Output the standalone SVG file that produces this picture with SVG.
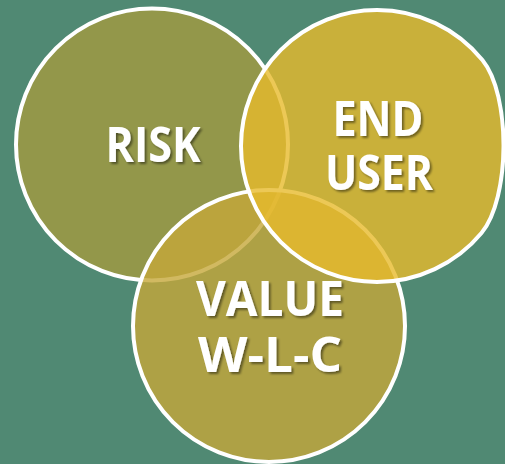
<svg xmlns="http://www.w3.org/2000/svg" width="505" height="464" viewBox="0 0 505 464">
  <defs>
    <filter id="shadow" x="-20%" y="-20%" width="140%" height="150%">
      <feDropShadow dx="2" dy="2" stdDeviation="1.2" flood-color="#000" flood-opacity="0.45"/>
    </filter>
    <style>
      .disc { stroke: #ffffff; stroke-width: 4; fill-opacity: 0.8; }
      .label { font-family: "Open Sans", "Liberation Sans", sans-serif; font-weight: 700; font-size: 48px; fill: #ffffff; text-anchor: middle; filter: url(#shadow); }
    </style>
  </defs>

  <!-- background -->
  <rect x="0" y="0" width="505" height="464" fill="#508973"/>

  <!-- Risk -->
  <g id="risk">
    <circle class="disc" cx="152" cy="144.5" r="136" fill="#a49b40"/>
  </g>

  <!-- Value (whole-life cost) -->
  <g id="value">
    <circle class="disc" cx="269" cy="326" r="136" fill="#c5a73a"/>
  </g>

  <!-- End user: right side flattened against the edge -->
  <g id="end-user">
    <path class="disc" fill="#e7ba2c"
          d="M 377 10 A 136 136 0 0 0 241 146 A 136 136 0 0 0 377 282 A 136 136 0 0 0 481.5 233 C 510.4 198.3 511 95 482.4 60 A 136 136 0 0 0 377 10 Z"/>
  </g>

  <!-- labels -->
  <g id="labels">
    <text class="label" x="153" y="162" textLength="95" lengthAdjust="spacingAndGlyphs">RISK</text>
    <text class="label" x="378" y="136" textLength="91" lengthAdjust="spacingAndGlyphs">END</text>
    <text class="label" x="379" y="190" textLength="108" lengthAdjust="spacingAndGlyphs">USER</text>
    <text class="label" x="270" y="316" textLength="148" lengthAdjust="spacingAndGlyphs">VALUE</text>
    <text class="label" x="270" y="372" textLength="144" lengthAdjust="spacingAndGlyphs">W-L-C</text>
  </g>

  <!-- no connectors in this diagram -->
  <g id="connectors"/>
</svg>
